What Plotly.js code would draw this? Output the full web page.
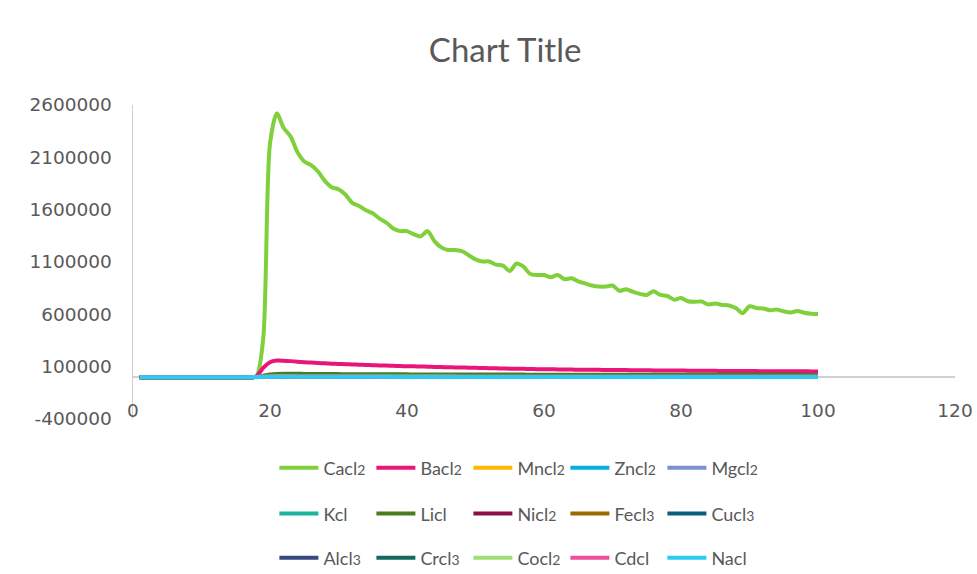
<!DOCTYPE html>
<html>
<head>
<meta charset="utf-8">
<script src="https://cdn.plot.ly/plotly-3.0.1.min.js"></script>
<style>
  html, body { margin: 0; padding: 0; background: #ffffff; }
  #chart { width: 977px; height: 574px; }
</style>
</head>
<body>
<div id="chart"></div>
<script>
// Sample index along the horizontal axis (1..100)
const samples = [
  1, 2, 3, 4, 5, 6, 7, 8, 9, 10, 11, 12, 13, 14, 15, 16, 17, 18, 19, 20,
  21, 22, 23, 24, 25, 26, 27, 28, 29, 30, 31, 32, 33, 34, 35, 36, 37, 38, 39, 40,
  41, 42, 43, 44, 45, 46, 47, 48, 49, 50, 51, 52, 53, 54, 55, 56, 57, 58, 59, 60,
  61, 62, 63, 64, 65, 66, 67, 68, 69, 70, 71, 72, 73, 74, 75, 76, 77, 78, 79, 80,
  81, 82, 83, 84, 85, 86, 87, 88, 89, 90, 91, 92, 93, 94, 95, 96, 97, 98, 99, 100
];

const cacl2 = [
  0, 0, 0, 0, 0, 0, 0, 0, 0, 0,
  0, 0, 0, 0, 0, 0, 0, 8000, 360000, 2230000,
  2520000, 2380000, 2300000, 2150000, 2060000, 2025000, 1965000, 1875000, 1815000, 1795000,
  1745000, 1665000, 1635000, 1595000, 1565000, 1515000, 1475000, 1420000, 1395000, 1395000,
  1365000, 1345000, 1395000, 1300000, 1240000, 1215000, 1215000, 1205000, 1165000, 1125000,
  1105000, 1105000, 1075000, 1065000, 1015000, 1085000, 1055000, 985000, 975000, 975000,
  955000, 975000, 935000, 945000, 915000, 895000, 875000, 865000, 865000, 875000,
  825000, 840000, 815000, 795000, 785000, 820000, 785000, 775000, 740000, 755000,
  725000, 720000, 722000, 695000, 703000, 690000, 685000, 660000, 612000, 677000,
  660000, 655000, 640000, 645000, 628000, 618000, 632000, 615000, 605000, 602000
];
const bacl2 = [
  0, 0, 0, 0, 0, 0, 0, 0, 0, 0,
  0, 0, 0, 0, 0, 0, 0, 6000, 88000, 143000,
  158000, 157000, 153000, 148000, 143000, 139000, 135000, 132000, 129000, 126000,
  124000, 121000, 119000, 117000, 114000, 112000, 110000, 108000, 106000, 104000,
  103000, 101000, 100000, 98000, 96000, 95000, 93000, 92000, 90000, 89000,
  87000, 86000, 84000, 83000, 81000, 80000, 79000, 78000, 76000, 75000,
  74500, 74000, 73000, 72000, 71500, 71000, 70000, 69500, 69000, 68000,
  67500, 67000, 66500, 66000, 65000, 64500, 64000, 63500, 63000, 62500,
  62000, 61500, 61000, 60500, 60000, 59500, 59000, 58800, 58500, 58000,
  57500, 57000, 56800, 56500, 56000, 55800, 55500, 55200, 55000, 54800
];
const mncl2 = [
  0, 0, 0, 0, 0, 0, 0, 0, 0, 0,
  0, 0, 0, 0, 0, 0, 0, 1500, 6000, 9000,
  9800, 9600, 9400, 9200, 9000, 8800, 8700, 8500, 8400, 8200,
  8100, 8000, 7900, 7800, 7700, 7600, 7500, 7400, 7300, 7200,
  7100, 7000, 6900, 6800, 6800, 6700, 6600, 6500, 6500, 6400,
  6300, 6300, 6200, 6100, 6100, 6000, 6000, 5900, 5900, 5800,
  5800, 5700, 5700, 5600, 5600, 5500, 5500, 5500, 5400, 5400,
  5300, 5300, 5300, 5200, 5200, 5200, 5100, 5100, 5100, 5000,
  5000, 5000, 4900, 4900, 4900, 4900, 4800, 4800, 4800, 4800,
  4700, 4700, 4700, 4700, 4600, 4600, 4600, 4600, 4500, 4500
];
const zncl2 = [
  0, 0, 0, 0, 0, 0, 0, 0, 0, 0,
  0, 0, 0, 0, 0, 0, 0, 800, 3500, 5200,
  5600, 5500, 5300, 5200, 5100, 5000, 4900, 4800, 4700, 4600,
  4500, 4500, 4400, 4300, 4300, 4200, 4100, 4100, 4000, 4000,
  3900, 3900, 3800, 3800, 3700, 3700, 3600, 3600, 3600, 3500,
  3500, 3500, 3400, 3400, 3400, 3300, 3300, 3300, 3200, 3200,
  3200, 3200, 3100, 3100, 3100, 3100, 3000, 3000, 3000, 3000,
  2900, 2900, 2900, 2900, 2900, 2800, 2800, 2800, 2800, 2800,
  2700, 2700, 2700, 2700, 2700, 2700, 2600, 2600, 2600, 2600,
  2600, 2600, 2500, 2500, 2500, 2500, 2500, 2500, 2400, 2400
];
const mgcl2 = [
  0, 0, 0, 0, 0, 0, 0, 0, 0, 0,
  0, 0, 0, 0, 0, 0, 0, 1200, 7500, 11500,
  12400, 12100, 11800, 11500, 11200, 10900, 10700, 10400, 10200, 10000,
  9800, 9600, 9400, 9300, 9100, 9000, 8800, 8700, 8600, 8400,
  8300, 8200, 8100, 8000, 7900, 7800, 7700, 7600, 7500, 7400,
  7400, 7300, 7200, 7100, 7100, 7000, 6900, 6900, 6800, 6800,
  6700, 6700, 6600, 6600, 6500, 6500, 6400, 6400, 6300, 6300,
  6300, 6200, 6200, 6100, 6100, 6100, 6000, 6000, 6000, 5900,
  5900, 5900, 5800, 5800, 5800, 5800, 5700, 5700, 5700, 5700,
  5600, 5600, 5600, 5600, 5500, 5500, 5500, 5500, 5500, 5400
];
const kcl = [
  0, 0, 0, 0, 0, 0, 0, 0, 0, 0,
  0, 0, 0, 0, 0, 0, 0, 600, 2400, 3600,
  3900, 3800, 3700, 3600, 3500, 3500, 3400, 3300, 3300, 3200,
  3200, 3100, 3100, 3000, 3000, 2900, 2900, 2900, 2800, 2800,
  2800, 2700, 2700, 2700, 2600, 2600, 2600, 2500, 2500, 2500,
  2500, 2400, 2400, 2400, 2400, 2300, 2300, 2300, 2300, 2300,
  2200, 2200, 2200, 2200, 2200, 2100, 2100, 2100, 2100, 2100,
  2100, 2000, 2000, 2000, 2000, 2000, 2000, 1900, 1900, 1900,
  1900, 1900, 1900, 1900, 1800, 1800, 1800, 1800, 1800, 1800,
  1800, 1800, 1700, 1700, 1700, 1700, 1700, 1700, 1700, 1700
];
const licl = [
  0, 0, 0, 0, 0, 0, 0, 0, 0, 0,
  0, 0, 0, 0, 0, 0, 0, 1000, 12000, 26000,
  31000, 32000, 32000, 31500, 31000, 30500, 30000, 29500, 29000, 28800,
  28500, 28200, 28000, 27800, 27500, 27300, 27000, 26800, 26600, 26400,
  26200, 26000, 25800, 25600, 25500, 25300, 25100, 25000, 24900, 24700,
  24600, 24500, 24400, 24300, 24200, 24100, 24000, 23900, 23800, 23700,
  23600, 23500, 23400, 23300, 23300, 23200, 23100, 23000, 23000, 22900,
  22800, 22800, 22700, 22600, 22600, 22500, 22500, 22400, 22400, 22300,
  22300, 22200, 22200, 22100, 22100, 22000, 22000, 21900, 21900, 21800,
  21800, 21800, 21700, 21700, 21600, 21600, 21600, 21500, 21500, 21500
];
const nicl2 = [
  0, 0, 0, 0, 0, 0, 0, 0, 0, 0,
  0, 0, 0, 0, 0, 0, 0, 300, 1800, 2700,
  2900, 2800, 2800, 2700, 2700, 2600, 2600, 2500, 2500, 2400,
  2400, 2400, 2300, 2300, 2300, 2200, 2200, 2200, 2100, 2100,
  2100, 2100, 2000, 2000, 2000, 2000, 1900, 1900, 1900, 1900,
  1800, 1800, 1800, 1800, 1800, 1700, 1700, 1700, 1700, 1700,
  1700, 1600, 1600, 1600, 1600, 1600, 1600, 1600, 1500, 1500,
  1500, 1500, 1500, 1500, 1500, 1500, 1500, 1400, 1400, 1400,
  1400, 1400, 1400, 1400, 1400, 1400, 1400, 1400, 1300, 1300,
  1300, 1300, 1300, 1300, 1300, 1300, 1300, 1300, 1300, 1300
];
const fecl3 = [
  0, 0, 0, 0, 0, 0, 0, 0, 0, 0,
  0, 0, 0, 0, 0, 0, 0, 400, 2900, 4300,
  4600, 4500, 4400, 4300, 4200, 4100, 4000, 3900, 3800, 3800,
  3700, 3600, 3600, 3500, 3500, 3400, 3400, 3300, 3300, 3200,
  3200, 3100, 3100, 3100, 3000, 3000, 2900, 2900, 2900, 2800,
  2800, 2800, 2800, 2700, 2700, 2700, 2600, 2600, 2600, 2600,
  2500, 2500, 2500, 2500, 2500, 2400, 2400, 2400, 2400, 2400,
  2300, 2300, 2300, 2300, 2300, 2300, 2200, 2200, 2200, 2200,
  2200, 2200, 2200, 2100, 2100, 2100, 2100, 2100, 2100, 2100,
  2000, 2000, 2000, 2000, 2000, 2000, 2000, 2000, 2000, 1900
];
const cucl3 = [
  0, 0, 0, 0, 0, 0, 0, 0, 0, 0,
  0, 0, 0, 0, 0, 0, 0, 500, 3300, 5000,
  5400, 5300, 5100, 5000, 4900, 4800, 4700, 4600, 4500, 4400,
  4300, 4300, 4200, 4100, 4100, 4000, 3900, 3900, 3800, 3800,
  3700, 3700, 3600, 3600, 3500, 3500, 3500, 3400, 3400, 3400,
  3300, 3300, 3300, 3200, 3200, 3200, 3100, 3100, 3100, 3100,
  3000, 3000, 3000, 3000, 2900, 2900, 2900, 2900, 2900, 2800,
  2800, 2800, 2800, 2800, 2700, 2700, 2700, 2700, 2700, 2700,
  2600, 2600, 2600, 2600, 2600, 2600, 2500, 2500, 2500, 2500,
  2500, 2500, 2500, 2400, 2400, 2400, 2400, 2400, 2400, 2400
];
const alcl3 = [
  0, 0, 0, 0, 0, 0, 0, 0, 0, 0,
  0, 0, 0, 0, 0, 0, 0, 200, 1500, 2300,
  2500, 2400, 2400, 2300, 2300, 2200, 2200, 2100, 2100, 2100,
  2000, 2000, 2000, 1900, 1900, 1900, 1800, 1800, 1800, 1800,
  1700, 1700, 1700, 1700, 1600, 1600, 1600, 1600, 1600, 1500,
  1500, 1500, 1500, 1500, 1500, 1400, 1400, 1400, 1400, 1400,
  1400, 1400, 1300, 1300, 1300, 1300, 1300, 1300, 1300, 1300,
  1200, 1200, 1200, 1200, 1200, 1200, 1200, 1200, 1200, 1200,
  1100, 1100, 1100, 1100, 1100, 1100, 1100, 1100, 1100, 1100,
  1100, 1000, 1000, 1000, 1000, 1000, 1000, 1000, 1000, 1000
];
const crcl3 = [
  0, 0, 0, 0, 0, 0, 0, 0, 0, 0,
  0, 0, 0, 0, 0, 0, 0, 350, 2100, 3200,
  3400, 3300, 3300, 3200, 3100, 3100, 3000, 2900, 2900, 2800,
  2800, 2700, 2700, 2700, 2600, 2600, 2500, 2500, 2500, 2400,
  2400, 2400, 2300, 2300, 2300, 2300, 2200, 2200, 2200, 2200,
  2100, 2100, 2100, 2100, 2000, 2000, 2000, 2000, 2000, 1900,
  1900, 1900, 1900, 1900, 1900, 1800, 1800, 1800, 1800, 1800,
  1800, 1800, 1700, 1700, 1700, 1700, 1700, 1700, 1700, 1700,
  1600, 1600, 1600, 1600, 1600, 1600, 1600, 1600, 1600, 1500,
  1500, 1500, 1500, 1500, 1500, 1500, 1500, 1500, 1500, 1500
];
const cocl2 = [
  0, 0, 0, 0, 0, 0, 0, 0, 0, 0,
  0, 0, 0, 0, 0, 0, 0, 900, 4800, 7200,
  7800, 7600, 7400, 7200, 7000, 6900, 6700, 6600, 6400, 6300,
  6200, 6100, 6000, 5900, 5800, 5700, 5600, 5500, 5400, 5300,
  5300, 5200, 5100, 5000, 5000, 4900, 4900, 4800, 4700, 4700,
  4600, 4600, 4500, 4500, 4400, 4400, 4400, 4300, 4300, 4200,
  4200, 4200, 4100, 4100, 4100, 4000, 4000, 4000, 3900, 3900,
  3900, 3900, 3800, 3800, 3800, 3800, 3700, 3700, 3700, 3700,
  3600, 3600, 3600, 3600, 3600, 3500, 3500, 3500, 3500, 3500,
  3500, 3400, 3400, 3400, 3400, 3400, 3400, 3300, 3300, 3300
];
const cdcl = [
  0, 0, 0, 0, 0, 0, 0, 0, 0, 0,
  0, 0, 0, 0, 0, 0, 0, 700, 4000, 6100,
  6600, 6400, 6300, 6100, 6000, 5800, 5700, 5600, 5500, 5400,
  5300, 5200, 5100, 5000, 4900, 4800, 4800, 4700, 4600, 4600,
  4500, 4400, 4400, 4300, 4300, 4200, 4200, 4100, 4100, 4000,
  4000, 3900, 3900, 3900, 3800, 3800, 3700, 3700, 3700, 3600,
  3600, 3600, 3500, 3500, 3500, 3500, 3400, 3400, 3400, 3400,
  3300, 3300, 3300, 3300, 3200, 3200, 3200, 3200, 3200, 3100,
  3100, 3100, 3100, 3100, 3000, 3000, 3000, 3000, 3000, 3000,
  2900, 2900, 2900, 2900, 2900, 2900, 2900, 2800, 2800, 2800
];
const nacl = [
  0, 0, 0, 0, 0, 0, 0, 0, 0, 0,
  0, 0, 0, 0, 0, 0, 0, 400, 2000, 3100,
  3300, 3200, 3200, 3100, 3000, 3000, 2900, 2900, 2800, 2800,
  2700, 2700, 2700, 2600, 2600, 2500, 2500, 2500, 2400, 2400,
  2400, 2300, 2300, 2300, 2300, 2200, 2200, 2200, 2200, 2100,
  2100, 2100, 2100, 2000, 2000, 2000, 2000, 2000, 1900, 1900,
  1900, 1900, 1900, 1900, 1800, 1800, 1800, 1800, 1800, 1800,
  1700, 1700, 1700, 1700, 1700, 1700, 1700, 1600, 1600, 1600,
  1600, 1600, 1600, 1600, 1600, 1600, 1500, 1500, 1500, 1500,
  1500, 1500, 1500, 1500, 1500, 1500, 1500, 1400, 1400, 1400
];

// Series names, in drawing / legend order
const seriesNames = [
  'Cacl2', 'Bacl2', 'Mncl2', 'Zncl2', 'Mgcl2',
  'Kcl', 'Licl', 'Nicl2', 'Fecl3', 'Cucl3',
  'Alcl3', 'Crcl3', 'Cocl2', 'Cdcl', 'Nacl'
];
const seriesValues = [
  cacl2, bacl2, mncl2, zncl2, mgcl2,
  kcl, licl, nicl2, fecl3, cucl3,
  alcl3, crcl3, cocl2, cdcl, nacl
];
const seriesColors = [
  '#7fd03b', '#ea157a', '#feb800', '#06afdc', '#7c91cf',
  '#1bb29e', '#4b7c1f', '#8c1048', '#9b6b00', '#075f7b',
  '#374a80', '#126b5d', '#a1df74', '#f04f98', '#2ccbf3'
];

// Axis tick values and labels
const yTickValues = [-400000, 100000, 600000, 1100000, 1600000, 2100000, 2600000];
const yTickLabels = ['-400000', '100000', '600000', '1100000', '1600000', '2100000', '2600000'];
const xTickValues = [0, 20, 40, 60, 80, 100, 120];
const xTickLabels = ['0', '20', '40', '60', '80', '100', '120'];

const legendIds = ['legend', 'legend2', 'legend3'];

// Render the trailing formula digit in a smaller size
function formatName(name) {
  return name.replace(/(\d)$/, function (d) {
    return '<span style="font-size:14px">' + d + '</span>';
  });
}

const traces = seriesNames.map(function (name, i) {
  return {
    type: 'scatter',
    mode: 'lines',
    name: formatName(name),
    x: samples,
    y: seriesValues[i],
    line: { color: seriesColors[i], width: 4, shape: 'spline', smoothing: 0.8 },
    legend: legendIds[Math.floor(i / 5)],
    hoverinfo: 'x+y+name'
  };
});

const textGray = '#595959';
const legendBase = {
  orientation: 'h',
  xanchor: 'left',
  yanchor: 'middle',
  x: 0.172,
  itemwidth: 39,
  entrywidth: 43,
  entrywidthmode: 'pixels',
  font: { family: 'Lato, "Open Sans", sans-serif', size: 18, color: textGray },
  bgcolor: 'rgba(0,0,0,0)',
  traceorder: 'normal'
};

const layout = {
  width: 977,
  height: 574,
  paper_bgcolor: '#ffffff',
  plot_bgcolor: '#ffffff',
  margin: { l: 133, r: 22, t: 105, b: 155, autoexpand: false },
  title: {
    text: 'Chart Title',
    font: { family: 'Lato, "Open Sans", sans-serif', size: 33, color: textGray },
    xref: 'container', yref: 'container',
    x: 0.517, y: 1 - 50 / 574,
    xanchor: 'center', yanchor: 'middle'
  },
  xaxis: {
    range: [0, 120],
    tickmode: 'array',
    tickvals: xTickValues,
    ticktext: xTickLabels,
    ticks: '',
    anchor: 'free',
    position: 0.069,
    showgrid: false,
    showline: false,
    zeroline: false,
    tickfont: { family: '"DejaVu Sans", sans-serif', size: 18.5, color: textGray },
    fixedrange: true
  },
  yaxis: {
    range: [-400000, 2600000],
    tickmode: 'array',
    tickvals: yTickValues,
    ticktext: yTickLabels,
    ticks: '',
    ticklabelstandoff: 16,
    showgrid: false,
    showline: true,
    linecolor: '#d0d0d0',
    linewidth: 1.5,
    zeroline: true,
    zerolinecolor: '#d0d0d0',
    zerolinewidth: 1.5,
    tickfont: { family: '"DejaVu Sans", sans-serif', size: 18.5, color: textGray },
    fixedrange: true
  },
  legend: Object.assign({}, legendBase, { y: -0.156 }),
  legend2: Object.assign({}, legendBase, { y: -0.302 }),
  legend3: Object.assign({}, legendBase, { y: -0.443 }),
  showlegend: true
};

Plotly.newPlot('chart', traces, layout, { displayModeBar: false, staticPlot: true });
</script>
</body>
</html>
